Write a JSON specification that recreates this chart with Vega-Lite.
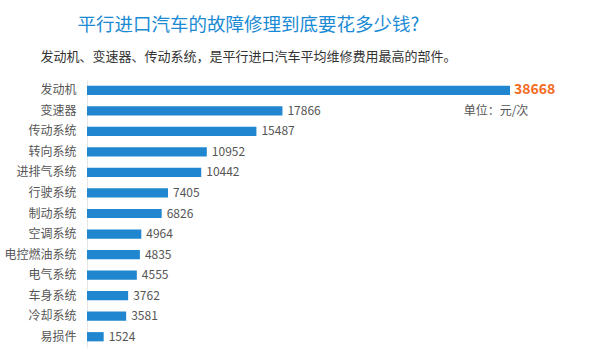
{
  "$schema": "https://vega.github.io/schema/vega-lite/v6.json",
  "width": 423,
  "height": 267,
  "autosize": {"type": "none"},
  "padding": {"left": 87, "top": 80, "right": 90, "bottom": 9},
  "background": "white",
  "view": {"stroke": null},
  "title": {
    "text": "平行进口汽车的故障修理到底要花多少钱?",
    "subtitle": "发动机、变速器、传动系统，是平行进口汽车平均维修费用最高的部件。",
    "anchor": "middle",
    "dx": -50,
    "font": "Noto Sans CJK SC",
    "fontSize": 18.5,
    "fontWeight": "normal",
    "color": "#1a8ad4",
    "subtitleFont": "Noto Sans CJK SC",
    "subtitleFontSize": 13,
    "subtitleFontWeight": "normal",
    "subtitleColor": "#333333",
    "subtitlePadding": 17,
    "offset": 16
  },
  "data": {
    "values": [
      {"part": "发动机", "cost": 38668},
      {"part": "变速器", "cost": 17866},
      {"part": "传动系统", "cost": 15487},
      {"part": "转向系统", "cost": 10952},
      {"part": "进排气系统", "cost": 10442},
      {"part": "行驶系统", "cost": 7405},
      {"part": "制动系统", "cost": 6826},
      {"part": "空调系统", "cost": 4964},
      {"part": "电控燃油系统", "cost": 4835},
      {"part": "电气系统", "cost": 4555},
      {"part": "车身系统", "cost": 3762},
      {"part": "冷却系统", "cost": 3581},
      {"part": "易损件", "cost": 1524}
    ]
  },
  "encoding": {
    "y": {
      "field": "part",
      "type": "nominal",
      "sort": null,
      "scale": {"paddingInner": 0.55, "paddingOuter": 0.275},
      "axis": {
        "title": null,
        "ticks": false,
        "domain": true,
        "domainColor": "#e6e6e6",
        "labelPadding": 11,
        "labelFont": "Noto Sans CJK SC",
        "labelFontSize": 12,
        "labelColor": "#555555"
      }
    },
    "x": {
      "field": "cost",
      "type": "quantitative",
      "scale": {"domain": [0, 38668], "nice": false, "zero": true},
      "axis": null
    }
  },
  "layer": [
    {"mark": {"type": "bar", "color": "#1f86cf"}},
    {
      "transform": [{"filter": "datum.cost < 30000"}],
      "mark": {"type": "text", "align": "left", "baseline": "middle", "dx": 5, "font": "Noto Sans CJK SC", "fontSize": 12, "color": "#555555"},
      "encoding": {"text": {"field": "cost", "type": "quantitative", "format": "d"}}
    },
    {
      "transform": [{"filter": "datum.cost >= 30000"}],
      "mark": {"type": "text", "align": "left", "baseline": "middle", "dx": 4, "font": "Noto Sans CJK SC", "fontSize": 14, "fontWeight": "bold", "color": "#f26b21"},
      "encoding": {"text": {"field": "cost", "type": "quantitative", "format": "d"}}
    },
    {
      "data": {"values": [{"part": "变速器", "cost": 38668, "note": "单位：元/次"}]},
      "mark": {"type": "text", "align": "center", "baseline": "middle", "dx": -14, "font": "Noto Sans CJK SC", "fontSize": 12, "color": "#555555"},
      "encoding": {"text": {"field": "note"}}
    }
  ]
}
